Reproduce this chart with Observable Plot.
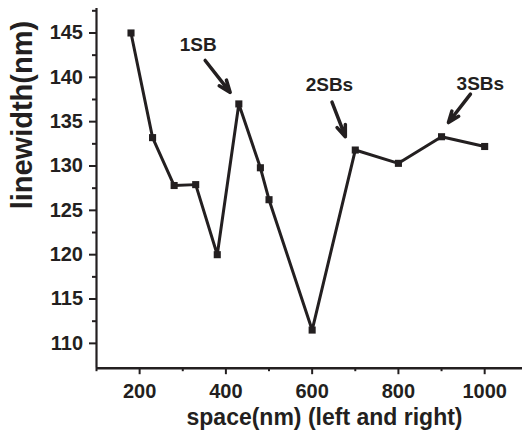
<!DOCTYPE html>
<html>
<head>
<meta charset="utf-8">
<script src="https://cdn.jsdelivr.net/npm/d3@7"></script>
<script src="https://cdn.jsdelivr.net/npm/@observablehq/plot@0.6"></script>
<style>
  html, body { margin: 0; padding: 0; background: #fff; }
</style>
</head>
<body>
<div id="chart"></div>
<script>
// Data
const spaceNm = [180, 230, 280, 330, 380, 430, 480, 500, 600, 700, 800, 900, 1000];
const linewidthNm = [145.0, 133.2, 127.8, 127.9, 120.0, 137.0, 129.8, 126.2, 111.5, 131.8, 130.3, 133.3, 132.2];

// Tick values
const xMajorTicks = [200, 400, 600, 800, 1000];
const xMinorTicks = [100, 300, 500, 700, 900];
const yMajorTicks = [110, 115, 120, 125, 130, 135, 140, 145];
const yMinorTicks = [112.5, 117.5, 122.5, 127.5, 132.5, 137.5, 142.5, 147.5];

// Annotations
const annLabels = ["1SB", "2SBs", "3SBs"];
const annTextX = [336, 640, 990];
const annTextY = [143.6, 139.2, 139.3];
const annArrowX1 = [352, 646, 967];
const annArrowY1 = [141.9, 137.2, 138.1];
const annArrowX2 = [410, 677, 916];
const annArrowY2 = [138.3, 133.3, 134.9];

const xLabel = "space(nm) (left and right)";
const yLabel = "linewidth(nm)";

const xDomain = [100, 1087.7];
const yDomain = [107.2, 147.76];

const points = spaceNm.map((x, i) => ({x, y: linewidthNm[i]}));
const anns = annLabels.map((label, i) => ({
  label, tx: annTextX[i], ty: annTextY[i],
  x1: annArrowX1[i], y1: annArrowY1[i], x2: annArrowX2[i], y2: annArrowY2[i]
}));

const ink = "#231f20";
const font = "'Liberation Sans', Arial, Helvetica, sans-serif";

const chart = Plot.plot({
  width: 522,
  height: 436,
  marginLeft: 96,
  marginRight: 0,
  marginTop: 8,
  marginBottom: 68.3,
  style: {fontFamily: font, color: ink, background: "#fff", overflow: "visible"},
  x: {domain: xDomain},
  y: {domain: yDomain},
  marks: [
    // minor ticks
    Plot.axisX(xMinorTicks, {anchor: "bottom", tickSize: 3.5, strokeWidth: 2, text: null, label: null}),
    Plot.axisY(yMinorTicks, {anchor: "left", tickSize: 4, strokeWidth: 2, text: null, label: null}),
    // major ticks
    Plot.axisX(xMajorTicks, {anchor: "bottom", tickSize: 6.5, tickPadding: 9.5, strokeWidth: 2,
      fontSize: 20, fontWeight: "bold", label: null, tickFormat: d => String(d)}),
    Plot.axisY(yMajorTicks, {anchor: "left", tickSize: 7, tickPadding: 6.5, strokeWidth: 2,
      fontSize: 20, fontWeight: "bold", label: null, tickFormat: d => String(d)}),
    // axis lines
    Plot.ruleX([xDomain[0]], {stroke: ink, strokeWidth: 2.2}),
    Plot.ruleY([yDomain[0]], {stroke: ink, strokeWidth: 2.5}),
    // axis titles
    Plot.text([yLabel], {frameAnchor: "left", rotate: -90, dx: -73.5, dy: 21,
      fontSize: 29, fontWeight: "bold", fill: ink, text: d => d}),
    Plot.text([xLabel], {frameAnchor: "bottom", dx: 15, dy: 57,
      fontSize: 23, fontWeight: "bold", fill: ink, text: d => d}),
    // data
    Plot.line(points, {x: "x", y: "y", stroke: ink, strokeWidth: 3}),
    Plot.dot(points, {x: "x", y: "y", symbol: "square", r: 4, fill: ink, stroke: null}),
    // annotations
    Plot.arrow(anns, {x1: "x1", y1: "y1", x2: "x2", y2: "y2", stroke: ink, strokeWidth: 3.5,
      headLength: 5.5, headAngle: 42}),
    Plot.text(anns, {x: "tx", y: "ty", text: "label", fontSize: 19, fontWeight: "bold", fill: ink})
  ]
});

document.getElementById("chart").appendChild(chart);
</script>
</body>
</html>
